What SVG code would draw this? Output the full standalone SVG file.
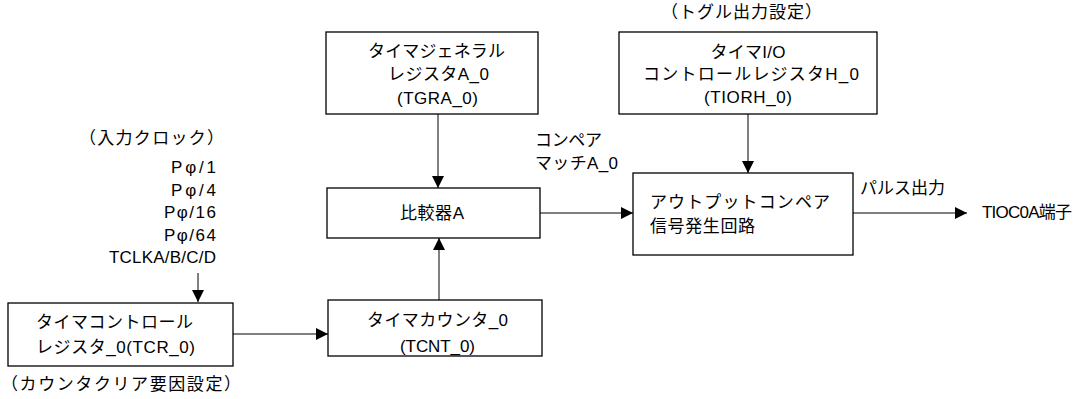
<svg xmlns="http://www.w3.org/2000/svg" width="1086" height="399" viewBox="0 0 1086 399">
<style>
text{font-family:"Liberation Sans","Noto Sans CJK JP",sans-serif;font-size:17px;fill:#000}
.box{fill:#fff;stroke:#000;stroke-width:1.3}
.c{text-anchor:middle}
.e{text-anchor:end}
.ln{fill:none;stroke:#000;stroke-width:1}
</style>
<defs>
<marker id="ah" markerUnits="userSpaceOnUse" markerWidth="12" markerHeight="12" refX="12" refY="6" orient="auto"><path d="M0,0 L12,6 L0,12 z" fill="#000"/></marker>
</defs>
<g id="connectors">
<path class="ln" d="M438,114 V188" marker-end="url(#ah)"/>
<path class="ln" d="M439,300 V238" marker-end="url(#ah)"/>
<path class="ln" d="M198,273 V302" marker-end="url(#ah)"/>
<path class="ln" d="M233,334 H328" marker-end="url(#ah)"/>
<path class="ln" d="M540,213 H633" marker-end="url(#ah)"/>
<path class="ln" d="M748,114 V173" marker-end="url(#ah)"/>
<path class="ln" d="M853,213 H967" marker-end="url(#ah)"/>
</g>
<g id="tgra">
<rect class="box" x="326" y="32" width="212" height="82"/>
<text class="c" x="436.5" y="57" textLength="137">タイマジェネラル</text>
<text class="c" x="438.5" y="80" textLength="101">レジスタA_0</text>
<text class="c" x="437.5" y="104" textLength="81">(TGRA_0)</text>
</g>
<g id="comparator">
<rect class="box" x="327" y="188" width="213" height="50"/>
<text class="c" x="432" y="219" textLength="64">比較器A</text>
</g>
<g id="tcnt">
<rect class="box" x="328" y="300" width="214" height="56"/>
<text class="c" x="437.5" y="326" textLength="141">タイマカウンタ_0</text>
<text class="c" x="437.5" y="352" textLength="75">(TCNT_0)</text>
</g>
<g id="tcr">
<rect class="box" x="8" y="303" width="225" height="63"/>
<text class="c" x="114.5" y="328" textLength="157">タイマコントロール</text>
<text class="c" x="115.5" y="353" textLength="159">レジスタ_0(TCR_0)</text>
<text x="1" y="390" textLength="240">（カウンタクリア要因設定）</text>
</g>
<g id="clock">
<text x="79" y="144" textLength="145">（入力クロック）</text>
<text class="e" x="216" y="173" textLength="45">Pφ/1</text>
<text class="e" x="216" y="196" textLength="45">Pφ/4</text>
<text class="e" x="216" y="218" textLength="52">Pφ/16</text>
<text class="e" x="216" y="241" textLength="52">Pφ/64</text>
<text class="e" x="216" y="263" textLength="107">TCLKA/B/C/D</text>
</g>
<g id="tiorh">
<text x="661" y="18" textLength="161">（トグル出力設定）</text>
<rect class="box" x="619" y="32" width="258" height="82"/>
<text class="c" x="748" y="58" textLength="75">タイマI/O</text>
<text class="c" x="751" y="80" textLength="216">コントロールレジスタH_0</text>
<text class="c" x="748" y="103" textLength="88">(TIORH_0)</text>
</g>
<g id="compare-match">
<text x="535" y="146" textLength="67">コンペア</text>
<text x="535" y="169" textLength="83">マッチA_0</text>
</g>
<g id="output-compare">
<rect class="box" x="633" y="173" width="220" height="82"/>
<text x="650" y="208" textLength="180">アウトプットコンペア</text>
<text x="650" y="232" textLength="105">信号発生回路</text>
</g>
<g id="pulse">
<text x="860" y="194" textLength="85">パルス出力</text>
<text x="982" y="218" textLength="90">TIOC0A端子</text>
</g>
</svg>
